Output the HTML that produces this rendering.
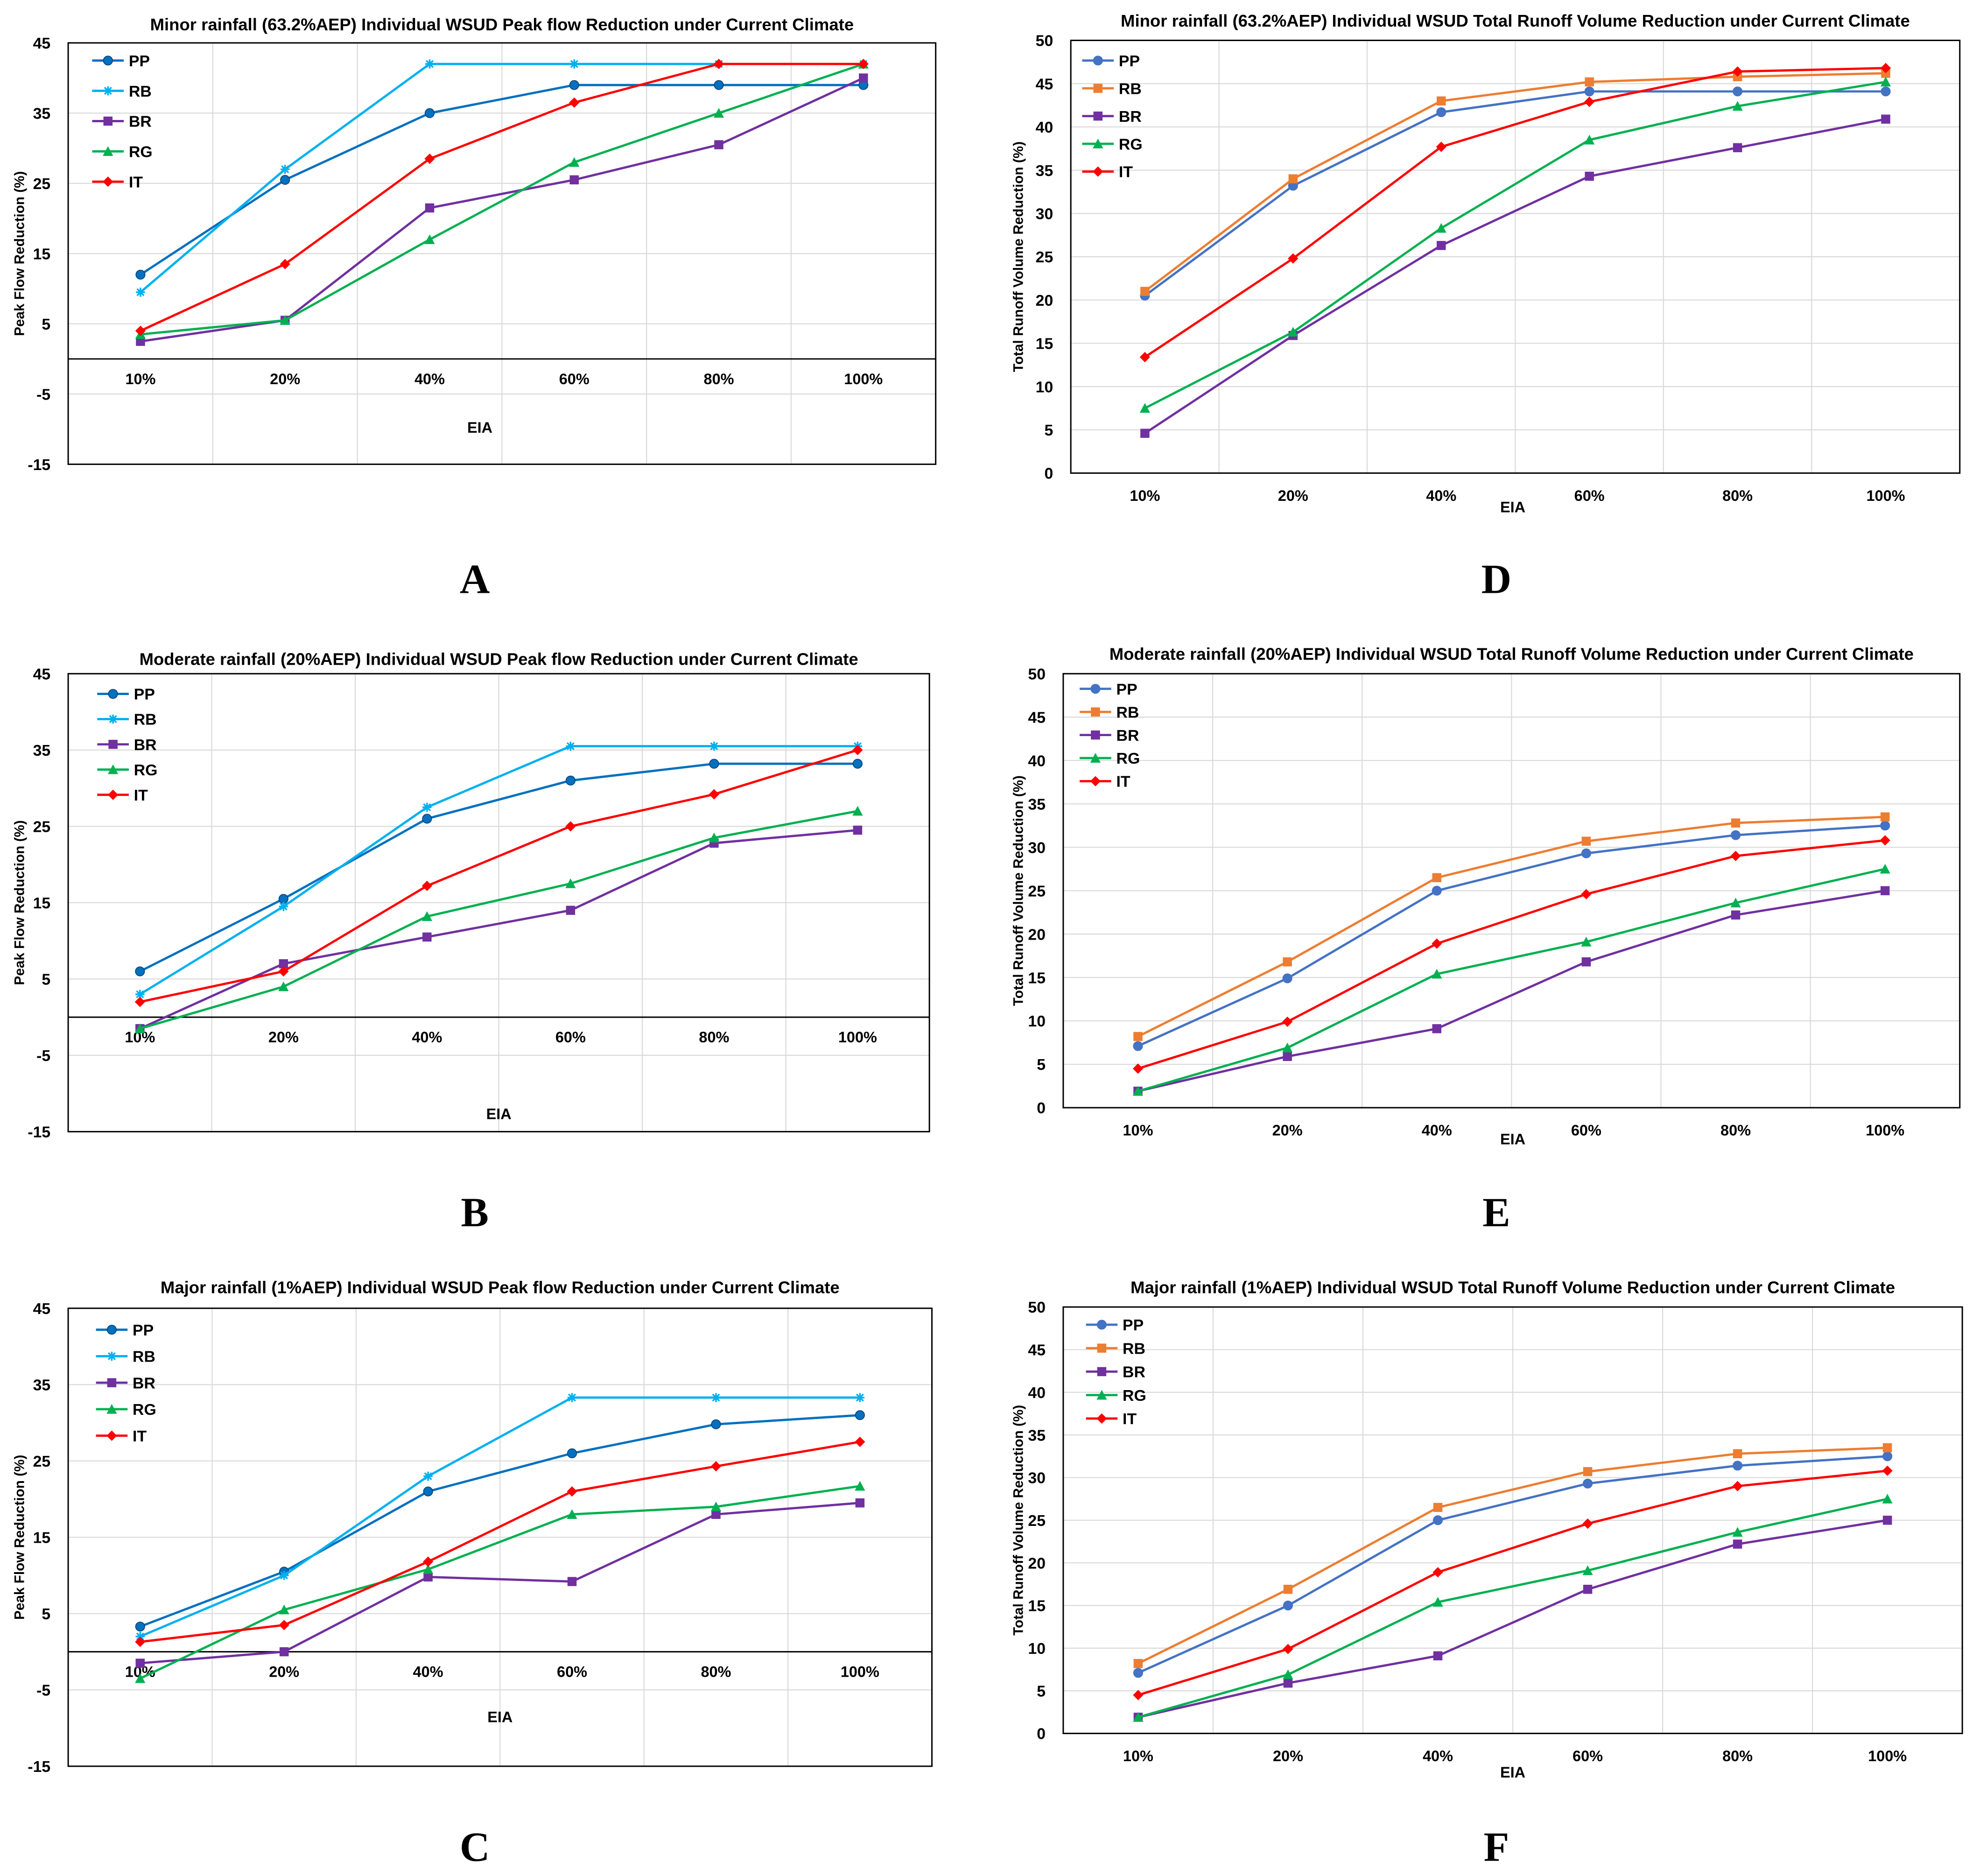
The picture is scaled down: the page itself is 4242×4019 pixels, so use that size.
<!DOCTYPE html>
<html><head><meta charset="utf-8"><style>
html,body{margin:0;padding:0;background:#fff;}
svg{display:block;}
text{font-family:"Liberation Sans",Arial,sans-serif;font-weight:bold;fill:#000;}
</style></head>
<body>
<svg id="root" xmlns="http://www.w3.org/2000/svg" width="4242" height="4019" viewBox="0 0 1568 1487" preserveAspectRatio="none"></svg>
<script>
const categories = ["10%","20%","40%","60%","80%","100%"];
const seriesNames = ["PP","RB","BR","RG","IT"];
// Chart A
const aPP = [12,25.5,35,39,39,39];
const aRB = [9.5,27,42,42,42,42];
const aBR = [2.5,5.5,21.5,25.5,30.5,40];
const aRG = [3.5,5.5,17,28,35,42];
const aIT = [4,13.5,28.5,36.5,42,42];
// Chart B
const bPP = [6,15.5,26,31,33.2,33.2];
const bRB = [3,14.5,27.5,35.5,35.5,35.5];
const bBR = [-1.5,7,10.5,14,22.8,24.5];
const bRG = [-1.5,4,13.2,17.5,23.5,27];
const bIT = [2,6,17.2,25,29.2,35];
// Chart C
const cPP = [3.3,10.5,21,26,29.8,31];
const cRB = [2,10,23,33.3,33.3,33.3];
const cBR = [-1.5,0,9.8,9.2,18,19.5];
const cRG = [-3.5,5.5,10.8,18,19,21.7];
const cIT = [1.3,3.5,11.8,21,24.3,27.5];
// Chart D
const dPP = [20.5,33.2,41.7,44.1,44.1,44.1];
const dRB = [21,34,43,45.2,45.8,46.2];
const dBR = [4.6,15.9,26.3,34.3,37.6,40.9];
const dRG = [7.5,16.3,28.3,38.5,42.4,45.2];
const dIT = [13.4,24.8,37.7,42.9,46.4,46.8];
// Chart E
const ePP = [7.1,14.9,25,29.3,31.4,32.5];
const eRB = [8.2,16.8,26.5,30.7,32.8,33.5];
const eBR = [1.9,5.9,9.1,16.8,22.2,25];
const eRG = [1.9,6.9,15.4,19.1,23.6,27.5];
const eIT = [4.5,9.9,18.9,24.6,29,30.8];
// Chart F
const fPP = [7.1,15,25,29.3,31.4,32.5];
const fRB = [8.2,16.9,26.5,30.7,32.8,33.5];
const fBR = [1.9,5.9,9.1,16.9,22.2,25];
const fRG = [1.9,6.9,15.4,19.1,23.6,27.5];
const fIT = [4.5,9.9,18.9,24.6,29,30.8];
const peakTicks = [45,35,25,15,5,-5,-15];
const volTicks = [50,45,40,35,30,25,20,15,10,5,0];

const NS="http://www.w3.org/2000/svg";
const root=document.getElementById('root');
function mk(tag,attrs,parent){const e=document.createElementNS(NS,tag);for(const k in attrs)e.setAttribute(k,attrs[k]);(parent||root).appendChild(e);return e;}
function txt(s,x,y,size,parent,anchor,extra){const t=mk('text',Object.assign({x:x,y:y,'font-size':size,'text-anchor':anchor||'middle'},extra||{}),parent);t.textContent=s;return t;}
function marker(g,shape,x,y,color,r){
  let m;
  if(shape==='circle') m=mk('circle',{cx:x,cy:y,r:r,fill:color,stroke:(color==='#0070c0'?'#0d3d6e':color),'stroke-width':0.6},g);
  else if(shape==='square') m=mk('rect',{x:x-r,y:y-r,width:2*r,height:2*r,fill:color},g);
  else if(shape==='triangle') m=mk('polygon',{points:`${x},${y-r-0.5} ${x+r+0.5},${y+r} ${x-r-0.5},${y+r}`,fill:color},g);
  else if(shape==='diamond') m=mk('polygon',{points:`${x},${y-r-0.5} ${x+r+0.5},${y} ${x},${y+r+0.5} ${x-r-0.5},${y}`,fill:color},g);
  else { m=mk('path',{d:`M${x-r},${y}H${x+r}M${x},${y-r}V${y+r}M${x-r*0.75},${y-r*0.75}L${x+r*0.75},${y+r*0.75}M${x-r*0.75},${y+r*0.75}L${x+r*0.75},${y-r*0.75}`,stroke:color,'stroke-width':1.3,fill:'none'},g);}
  return m;
}
function chart(cfg){
  const g=mk('g',{});
  
  
  const {x0,x1,y0,y1,vmax,vmin}=cfg;
  const n=categories.length, bw=(x1-x0)/n;
  const X=i=>x0+bw*(i+0.5);
  const Y=v=>y0+(vmax-v)/(vmax-vmin)*(y1-y0);
  cfg.ticks.forEach(t=>{
    const gl=mk('line',{x1:x0,x2:x1,y1:Y(t),y2:Y(t),stroke:'#d9d9d9','stroke-width':0.8},g);
    
    
    const tl=txt(String(t),x0-14,Y(t)+4.5,12.5,g,'end');
    
    
  });
  for(let i=1;i<n;i++){
    const vl=mk('line',{x1:x0+bw*i,x2:x0+bw*i,y1:y0,y2:y1,stroke:'#d9d9d9','stroke-width':0.8},g);
    
    
  }
  const fr=mk('rect',{x:x0,y:y0,width:x1-x0,height:y1-y0,fill:'none',stroke:'#000','stroke-width':1.1},g);
  
  
  if(vmin<0){
    const zl=mk('line',{x1:x0,x2:x1,y1:Y(0),y2:Y(0),stroke:'#000','stroke-width':1.1},g);
    
    
  }
  const labY = vmin<0 ? Y(0)+20 : y1+22;
  categories.forEach((c,i)=>{
    const cl=txt(c,X(i),labY,12,g);
    
    
  });
  const xt=txt('EIA',cfg.eiaX,cfg.eiaY,12,g);
  
  
  const tt=txt(cfg.title,(x0+x1)/2,cfg.titleY,13.5,g);
  
  
  const yt=txt(cfg.ytitle,0,0,11,g,'middle',{transform:`translate(${cfg.ytX},${(y0+y1)/2}) rotate(-90)`});
  
  
  cfg.series.forEach((s,si)=>{
    const pts=s.data.map((v,i)=>`${X(i)},${Y(v)}`).join(' ');
    const pl=mk('polyline',{points:pts,fill:'none',stroke:s.color,'stroke-width':1.8},g);
    
    
    s.data.forEach((v,i)=>{
      const m=marker(g,s.shape,X(i),Y(v),s.color,3.6);
      
      
    });
    const ly=cfg.legY+si*cfg.legStep, lx=cfg.legX;
    const le=mk('g',{},g);
    
    
    mk('line',{x1:lx,x2:lx+25,y1:ly,y2:ly,stroke:s.color,'stroke-width':1.8},le);
    marker(le,s.shape,lx+12.5,ly,s.color,3.6);
    txt(seriesNames[si],lx+29,ly+4.5,12.5,le,'start');
  });
  const lt=txt(cfg.letter,cfg.letX,cfg.letY,33,root,'middle',{style:'font-family:"Liberation Serif",serif;font-weight:bold;'});
  
  
}
const peakCols=['#0070c0','#00b0f0','#7030a0','#00b050','#ff0000'];
const peakShapes=['circle','star','square','triangle','diamond'];
const volCols=['#4472c4','#ed7d31','#7030a0','#00b050','#ff0000'];
const volShapes=['circle','square','square','triangle','diamond'];
function ser(cols,shapes,arrs){return arrs.map((d,i)=>({data:d,color:cols[i],shape:shapes[i]}));}
const PFR='Peak Flow Reduction (%)', TRV='Total Runoff Volume Reduction (%)';
chart({name:'chart-a',letter:'A',x0:54,x1:741,y0:34,y1:368,vmax:45,vmin:-15,ticks:peakTicks,title:'Minor rainfall (63.2%AEP) Individual WSUD Peak flow Reduction under Current Climate',titleY:24,ytitle:PFR,ytX:19,eiaX:380,eiaY:343,legX:73,legY:48,legStep:24,letX:376,letY:470,series:ser(peakCols,peakShapes,[aPP,aRB,aBR,aRG,aIT])});
chart({name:'chart-b',letter:'B',x0:54,x1:736,y0:534,y1:897,vmax:45,vmin:-15,ticks:peakTicks,title:'Moderate rainfall (20%AEP) Individual WSUD Peak flow Reduction under Current Climate',titleY:527,ytitle:PFR,ytX:19,eiaX:395,eiaY:887,legX:77,legY:550,legStep:20,letX:376,letY:972,series:ser(peakCols,peakShapes,[bPP,bRB,bBR,bRG,bIT])});
chart({name:'chart-c',letter:'C',x0:54,x1:738,y0:1037,y1:1400,vmax:45,vmin:-15,ticks:peakTicks,title:'Major rainfall (1%AEP) Individual WSUD Peak flow Reduction under Current Climate',titleY:1025,ytitle:PFR,ytX:19,eiaX:396,eiaY:1365,legX:76,legY:1054,legStep:21,letX:376,letY:1475,series:ser(peakCols,peakShapes,[cPP,cRB,cBR,cRG,cIT])});
chart({name:'chart-d',letter:'D',x0:848,x1:1552,y0:32,y1:375,vmax:50,vmin:0,ticks:volTicks,title:'Minor rainfall (63.2%AEP) Individual WSUD Total Runoff Volume Reduction under Current Climate',titleY:21,ytitle:TRV,ytX:810,eiaX:1198,eiaY:406,legX:857,legY:48,legStep:22,letX:1185,letY:470,series:ser(volCols,volShapes,[dPP,dRB,dBR,dRG,dIT])});
chart({name:'chart-e',letter:'E',x0:842,x1:1552,y0:534,y1:878,vmax:50,vmin:0,ticks:volTicks,title:'Moderate rainfall (20%AEP) Individual WSUD Total Runoff Volume Reduction under Current Climate',titleY:523,ytitle:TRV,ytX:810,eiaX:1198,eiaY:907,legX:855,legY:546,legStep:18.3,letX:1185,letY:972,series:ser(volCols,volShapes,[ePP,eRB,eBR,eRG,eIT])});
chart({name:'chart-f',letter:'F',x0:842,x1:1554,y0:1036,y1:1374,vmax:50,vmin:0,ticks:volTicks,title:'Major rainfall (1%AEP) Individual WSUD Total Runoff Volume Reduction under Current Climate',titleY:1025,ytitle:TRV,ytX:810,eiaX:1198,eiaY:1409,legX:860,legY:1050,legStep:18.6,letX:1185,letY:1475,series:ser(volCols,volShapes,[fPP,fRB,fBR,fRG,fIT])});
</script>
</body></html>
